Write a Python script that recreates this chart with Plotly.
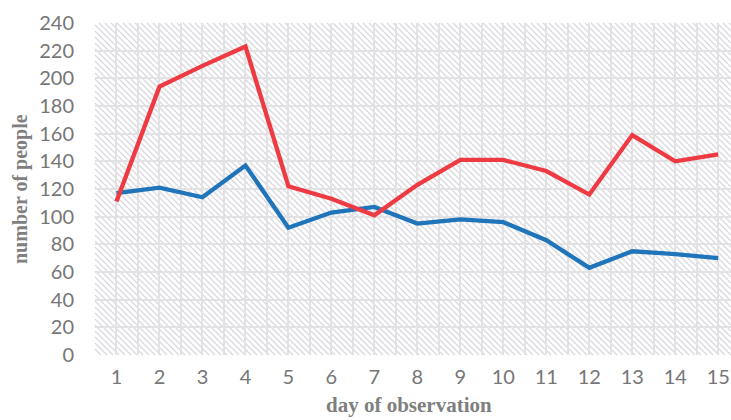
import plotly.graph_objects as go

days = list(range(1, 16))
red_series = [111, 194, 209, 223, 122, 113, 101, 123, 141, 141, 133, 116, 159, 140, 145]
blue_series = [117, 121, 114, 137, 92, 103, 107, 95, 98, 96, 83, 63, 75, 73, 70]
y_ticks = list(range(0, 241, 20))

W, H = 636, 332  # plot area in px (for hatch geometry)
period = 6
segs = []
c = -H
while c < W:
    x0 = max(0, c)
    y0 = x0 - c
    x1 = min(W, c + H)
    y1 = x1 - c
    if x1 > x0:
        segs.append(f"M {x0/W:.5f} {1 - y0/H:.5f} L {x1/W:.5f} {1 - y1/H:.5f}")
    c += period
hatch_path = " ".join(segs)

fig = go.Figure()
fig.add_trace(go.Scatter(x=days, y=blue_series, mode="lines",
                         line=dict(color="#1F74BA", width=4.3), name="blue"))
fig.add_trace(go.Scatter(x=days, y=red_series, mode="lines",
                         line=dict(color="#EE3A42", width=4.3), name="red"))

fig.add_shape(type="path", path=hatch_path, xref="x domain", yref="y domain",
              layer="below", line=dict(color="#dadae0", width=1.4))

grid = "#e2e2e5"
tickfont = dict(family="Lato, Open Sans, sans-serif", size=20, color="#767676")
fig.update_layout(
    width=731, height=420,
    margin=dict(l=95, r=0, t=23, b=65),
    paper_bgcolor="white", plot_bgcolor="white",
    showlegend=False,
    xaxis=dict(range=[0.5, 15.297], tickmode="array", tickvals=days,
               ticktext=[str(d) for d in days],
               showgrid=True, gridcolor=grid, gridwidth=2,
               minor=dict(tickmode="array", tickvals=[d + 0.5 for d in range(0, 16)],
                          showgrid=True, gridcolor=grid, gridwidth=2),
               zeroline=False, showline=False, ticks="",
               ticklabelstandoff=8, tickfont=tickfont),
    yaxis=dict(range=[0, 240], tickmode="array", tickvals=y_ticks,
               showgrid=True, gridcolor=grid, gridwidth=2,
               zeroline=False, showline=False, ticks="",
               ticklabelstandoff=20, tickfont=tickfont),
    annotations=[
        dict(text="<b>number of people</b>", xref="paper", yref="paper",
             x=(20 - 95) / 636, y=0.5, textangle=-90, showarrow=False,
             font=dict(family="Liberation Serif, serif", size=20, color="#7f7f7f"),
             xanchor="center", yanchor="middle"),
        dict(text="<b>day of observation</b>", xref="paper", yref="paper",
             x=(409 - 95) / 636, y=(355 - 405) / 332, showarrow=False,
             font=dict(family="Liberation Serif, serif", size=21, color="#7f7f7f"),
             xanchor="center", yanchor="middle"),
    ],
)

fig.write_html("out.html", config={"displayModeBar": False},
               post_script="document.body.style.margin='0';")
